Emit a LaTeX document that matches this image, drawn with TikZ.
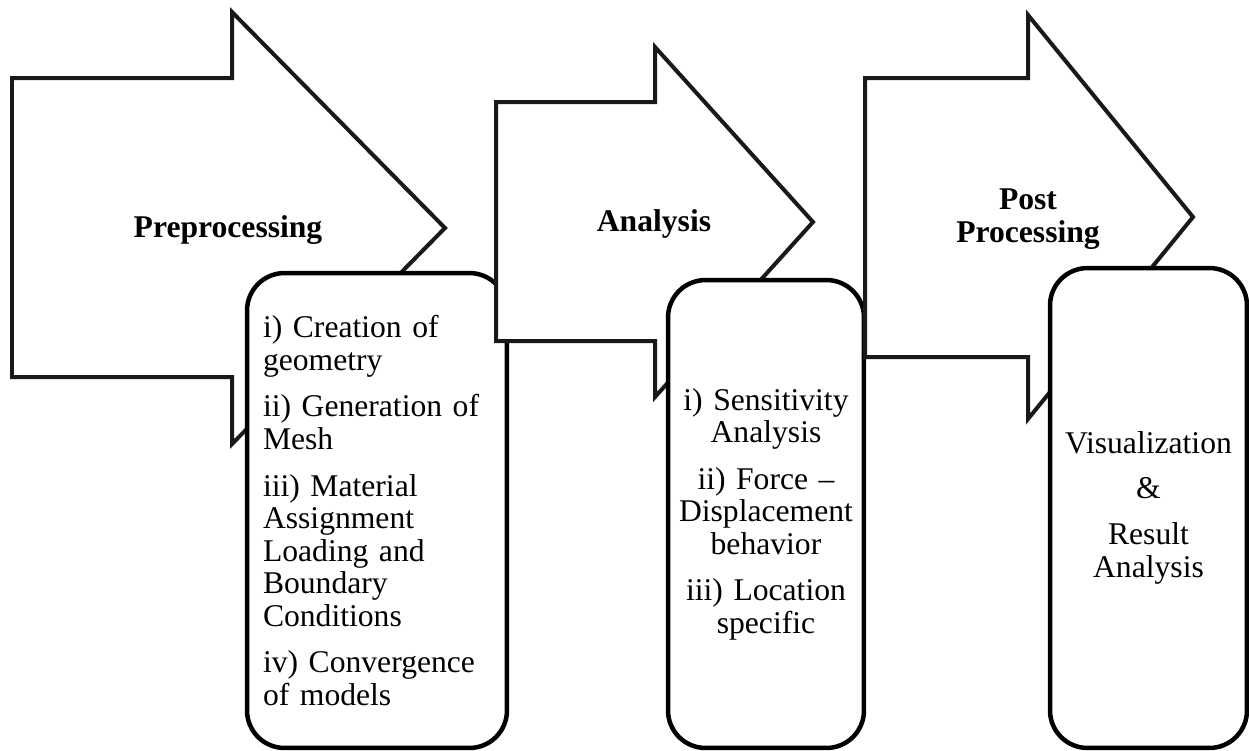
\documentclass[tikz,border=0pt]{standalone}
\usepackage{fontspec}
\setmainfont{Liberation Serif}
\begin{document}
\begin{tikzpicture}[x=0.02cm, y=-0.02cm,
  stagearrow/.style={draw=black!90, line width=0.08cm, fill=white, line join=miter},
  stagebox/.style={draw, line width=0.09cm, fill=white, rounded corners=0.75cm, inner sep=0.1cm, font=\fontsize{18}{18.5}\selectfont},
  stagetitle/.style={font=\fontsize{18}{18.5}\selectfont\bfseries, align=center}]
  \useasboundingbox (0,0) rectangle (1249,751);
  % Preprocessing
  \draw[stagearrow] (12,78) -- (232,78) -- (232,12) -- (445,228) -- (232,444) -- (232,377) -- (12,377) -- cycle;
  \node[stagetitle] (pre) at (228,230) {Preprocessing};
  \node[stagebox, minimum width=5.2cm, minimum height=9.5cm, text width=4.56cm, inner sep=0.32cm, align=left] (prebox) at (377,510.5)
    {i) Creation of\\ geometry\\[8pt] ii) Generation of\\ Mesh\\[8pt] iii) Material\\ Assignment\\ Loading and\\ Boundary\\ Conditions\\[8pt] iv) Convergence\\ of models};
  % Analysis
  \draw[stagearrow] (496,102) -- (655,102) -- (655,47) -- (813,222) -- (655,397) -- (655,341) -- (496,341) -- cycle;
  \node[stagetitle] (ana) at (654,224) {Analysis};
  \node[stagebox, minimum width=3.92cm, minimum height=9.36cm, text width=3.72cm, align=center] (anabox) at (766,514)
    {i) Sensitivity\\ Analysis\\[8pt] ii) Force --\\ Displacement\\ behavior\\[8pt] iii) Location\\ specific};
  % Post processing
  \draw[stagearrow] (865,78) -- (1028,78) -- (1028,15) -- (1193,217) -- (1028,419) -- (1028,357) -- (865,357) -- cycle;
  \node[stagetitle] (post) at (1028,219) {Post\\ Processing};
  \node[stagebox, minimum width=3.94cm, minimum height=9.6cm, text width=3.74cm, align=center] (postbox) at (1148.5,508)
    {Visualization\\[7pt] \&\\[8pt] Result\\ Analysis};
\end{tikzpicture}
\end{document}
